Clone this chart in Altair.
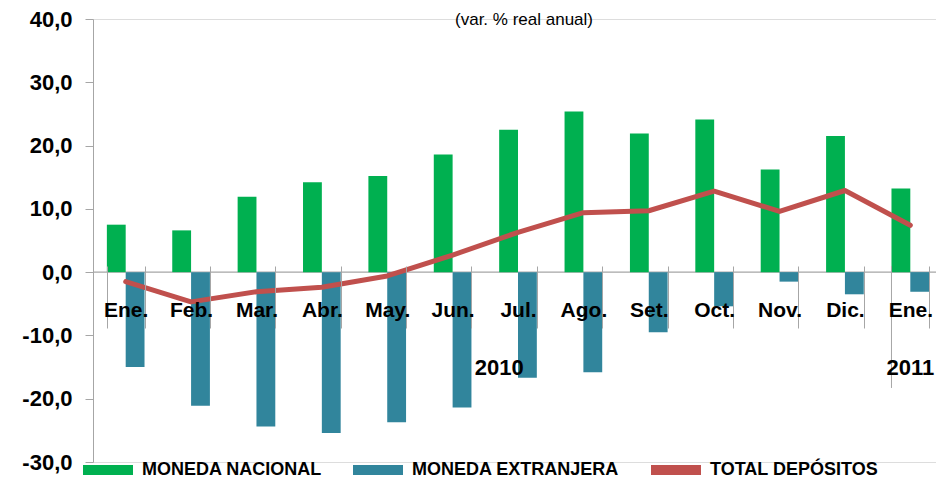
import altair as alt
import pandas as pd

months = ["Ene.", "Feb.", "Mar.", "Abr.", "May.", "Jun.", "Jul.", "Ago.", "Set.", "Oct.", "Nov.", "Dic.", "Ene."]
years = ["2010"] * 12 + ["2011"]
nacional = [7.5, 6.6, 11.9, 14.2, 15.2, 18.6, 22.5, 25.4, 21.9, 24.1, 16.2, 21.5, 13.2]
extranjera = [-15.0, -21.1, -24.4, -25.4, -23.7, -21.4, -16.7, -15.8, -9.5, -5.4, -1.5, -3.5, -3.1]
total = [-1.5, -4.7, -3.1, -2.4, -0.6, 2.7, 6.3, 9.4, 9.7, 12.8, 9.6, 12.9, 7.4]

series_names = ["MONEDA NACIONAL", "MONEDA EXTRANJERA", "TOTAL DEPÓSITOS"]
colors = ["#00B050", "#31859C", "#C0504D"]
year_labels = ["2010", "2011"]
year_label_pos = [-15.2, -15.2]
sep_top, sep_bottom = 0.95, -18.3
title_text = "(var. % real anual)"

keys = [f"{m}|{y}" for m, y in zip(months, years)]

bars = pd.DataFrame(
    [{"key": k, "series": series_names[0], "value": v} for k, v in zip(keys, nacional)]
    + [{"key": k, "series": series_names[1], "value": v} for k, v in zip(keys, extranjera)]
)
line_df = pd.DataFrame({"key": keys, "value": total})
zero_df = pd.DataFrame({"y": [0]})
sep_df = pd.DataFrame({"key": [keys[12]], "y": [sep_top], "y2": [sep_bottom]})
year_df = pd.DataFrame({"key": [keys[6], keys[12]], "label": year_labels, "y": year_label_pos})

FONT = "Liberation Sans, Arial, sans-serif"
GRAY = "#A6A6A6"

x_scale = alt.Scale(domain=keys, paddingInner=0.424, paddingOuter=0.212)
y_scale = alt.Scale(domain=[-30, 40], nice=False, zero=False)

x_axis = alt.Axis(
    title=None, orient="bottom", offset=-196, domain=False, tickBand="extent",
    tickSize=62, tickColor=GRAY, tickWidth=1, labelExpr="split(datum.label, '|')[0]",
    labelFont=FONT, labelFontSize=21, labelFontWeight="bold", labelColor="black",
    labelBaseline="middle", labelPadding=-18, labelAngle=0, zindex=1,
)
y_axis = alt.Axis(
    title=None, values=[-30, -20, -10, 0, 10, 20, 30, 40], grid=False,
    labelExpr="replace(replace(format(datum.value, '.1f'), '.', ','), '\u2212', '-')",
    labelFont=FONT, labelFontSize=22, labelFontWeight="bold", labelColor="black",
    domainColor=GRAY, tickColor=GRAY, tickSize=8, labelPadding=13,
)

zero = alt.Chart(zero_df).mark_rule(color=GRAY, strokeWidth=1.2).encode(
    y=alt.Y("y:Q", scale=y_scale, axis=y_axis)
)

bar = alt.Chart(bars).mark_bar().encode(
    x=alt.X("key:N", scale=x_scale, axis=x_axis, sort=keys),
    xOffset=alt.XOffset("series:N", scale=alt.Scale(domain=series_names[:2], paddingInner=0, paddingOuter=0)),
    y=alt.Y("value:Q", scale=y_scale, axis=y_axis),
    color=alt.Color(
        "series:N",
        scale=alt.Scale(domain=series_names, range=colors),
        legend=alt.Legend(
            title=None, orient="none", legendX=-10, legendY=426, direction="horizontal",
            symbolType="M-1,-0.2L1,-0.2L1,0.2L-1,0.2Z", symbolSize=2500, symbolStrokeWidth=0,
            labelFont=FONT, labelFontSize=18, labelFontWeight="bold", labelColor="black",
            labelOffset=9, columnPadding=31, labelLimit=400,
        ),
    ),
)

sep = alt.Chart(sep_df).mark_rule(color=GRAY, strokeWidth=1).encode(
    x=alt.X("key:N", scale=x_scale, bandPosition=0),
    y=alt.Y("y:Q", scale=y_scale),
    y2="y2:Q",
)

yr2010 = alt.Chart(year_df.iloc[[0]]).mark_text(
    font=FONT, fontSize=22, fontWeight="bold", color="black", baseline="middle", align="center"
).encode(
    x=alt.X("key:N", scale=x_scale, bandPosition=0),
    y=alt.Y("y:Q", scale=y_scale),
    text="label:N",
)
yr2011 = alt.Chart(year_df.iloc[[1]]).mark_text(
    font=FONT, fontSize=22, fontWeight="bold", color="black", baseline="middle", align="center"
).encode(
    x=alt.X("key:N", scale=x_scale, bandPosition=0.5),
    y=alt.Y("y:Q", scale=y_scale),
    text="label:N",
)

line = alt.Chart(line_df).mark_line(color=colors[2], strokeWidth=5, strokeJoin="round", strokeCap="round").encode(
    x=alt.X("key:N", scale=x_scale, sort=keys),
    y=alt.Y("value:Q", scale=y_scale),
)

chart = alt.layer(zero, bar, sep, yr2010, yr2011, line).properties(
    width=850, height=443,
    autosize=alt.AutoSizeParams(type="none"),
    padding={"left": 85, "top": 11, "right": -7, "bottom": 22},
    title=alt.TitleParams(title_text, font=FONT, fontSize=17, fontWeight="normal", color="black",
                          anchor="middle", baseline="top", offset=-21, dx=6),
).configure_view(stroke=None).configure(background="white")

chart.save("out.html", embed_options={"renderer": "svg", "actions": False})
